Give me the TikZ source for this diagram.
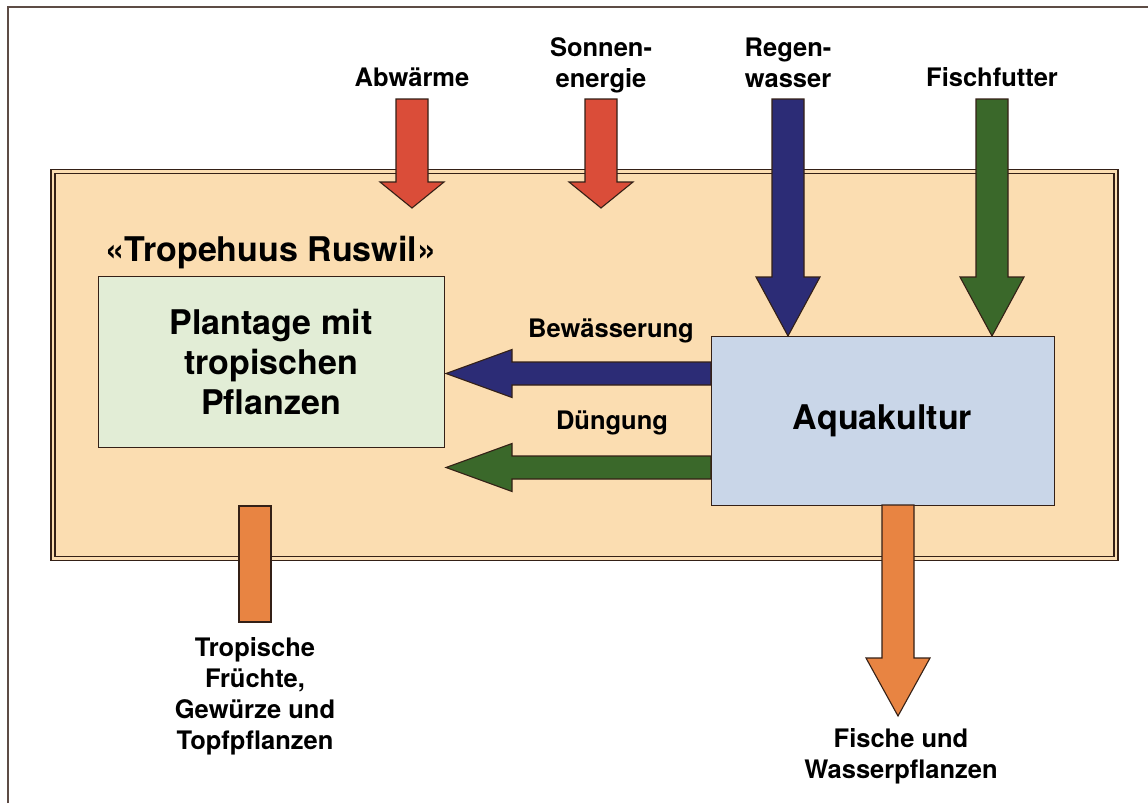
\documentclass[tikz,border=0pt]{standalone}
\usepackage{fontspec}
\setmainfont{TeX Gyre Heros}
\usepackage{xcolor}
\usetikzlibrary{positioning,calc}
\definecolor{linecolor}{RGB}{52,32,22}
\definecolor{housecolor}{RGB}{251,221,177}
\definecolor{plantcolor}{RGB}{226,237,214}
\definecolor{aquacolor}{RGB}{201,214,232}
\definecolor{heatcolor}{RGB}{218,77,57}
\definecolor{watercolor}{RGB}{44,44,118}
\definecolor{feedcolor}{RGB}{58,104,42}
\definecolor{yieldcolor}{RGB}{232,132,66}
\tikzset{
  house box/.style={
    rectangle,
    draw=linecolor,
    line width=1.3pt,
    double=housecolor,
    double distance=2.7pt,
    fill=housecolor,
    minimum width=1063pt,
    minimum height=387pt,
    inner sep=0pt
  },
  unit box/.style={
    rectangle,
    draw=linecolor,
    line width=0.9pt,
    inner sep=0pt,
    align=center,
    font=\fontsize{34}{40}\selectfont\bfseries
  },
  flow/.style={
    draw=linecolor,
    line width=1.1pt,
    line join=miter
  },
  flow label/.style={
    align=center,
    inner sep=0pt,
    font=\fontsize{25.5}{31}\selectfont\bfseries
  }
}
% down arrow: [head length]{colour}{start}{tip}, half widths 16/32
\newcommand{\flowdown}[4][58]{%
  \draw[flow, fill=#2] ([xshift=-16pt]#3) -- ([xshift=-16pt,yshift=#1pt]#4)
    -- ([xshift=-32pt,yshift=#1pt]#4) -- (#4) -- ([xshift=32pt,yshift=#1pt]#4)
    -- ([xshift=16pt,yshift=#1pt]#4) -- ([xshift=16pt]#3) -- cycle;}
% left arrow: {colour}{start}{tip}
\newcommand{\flowleft}[3]{%
  \draw[flow, fill=#1] ([yshift=11.5pt]#2) -- ([xshift=66pt,yshift=11.5pt]#3)
    -- ([xshift=66pt,yshift=24pt]#3) -- (#3) -- ([xshift=66pt,yshift=-24pt]#3)
    -- ([xshift=66pt,yshift=-11.5pt]#3) -- ([yshift=-11.5pt]#2) -- cycle;}

\begin{document}
\begin{tikzpicture}[x=1pt, y=-1pt]
  \useasboundingbox (0,0) rectangle (1148,803);
  \fill[white] (0,0) rectangle (1148,803);
  \draw[linecolor!80, line width=1.5pt] (8,803) -- (8,7) -- (1148,7);

  % Tropenhaus and its two units
  \node[house box] (house) at (584.5,365) {};
  \node[unit box, fill=plantcolor, minimum width=346pt, minimum height=171pt]
    (plant) at (271,361.5) {Plantage mit\\tropischen\\Pflanzen};
  \node[unit box, fill=aquacolor, minimum width=343pt, minimum height=169pt]
    (aqua) at (882.5,420.5) {Aquakultur};
  \node[font=\fontsize{34}{40}\selectfont\bfseries, inner sep=0pt]
    (title) at (271,253) {«Tropehuus Ruswil»};

  % inputs from outside
  \node[flow label, anchor=north] (abw) at (412,67.5) {Abwärme};
  \node[flow label, anchor=north] (son) at (601,37.5) {Sonnen-\\energie};
  \node[flow label, anchor=north] (reg) at (788,37.5) {Regen-\\wasser};
  \node[flow label, anchor=north] (ff) at (992,67.5) {Fischfutter};

  \coordinate (abw-top) at (412,99);
  \coordinate (abw-tip) at (412,208);
  \coordinate (son-top) at (601,99);
  \coordinate (son-tip) at (601,208);
  \coordinate (reg-top) at (788,99);
  \coordinate (reg-tip) at (788,336);
  \coordinate (ff-top) at (992,99);
  \coordinate (ff-tip) at (992,336);

  \flowdown[26]{heatcolor}{abw-top}{abw-tip}
  \flowdown[26]{heatcolor}{son-top}{son-tip}
  \flowdown[59]{watercolor}{reg-top}{reg-tip}
  \flowdown[59]{feedcolor}{ff-top}{ff-tip}

  % from Aquakultur to the plants
  \coordinate (bew-from) at (711,373.5);
  \coordinate (bew-tip) at (446,373.5);
  \coordinate (dung-from) at (711,467.5);
  \coordinate (dung-tip) at (446,467.5);
  \flowleft{watercolor}{bew-from}{bew-tip}
  \flowleft{feedcolor}{dung-from}{dung-tip}
  \node[flow label] (bew) at (611,331) {Bewässerung};
  \node[flow label] (dung) at (612,423) {Düngung};

  % outputs
  \coordinate (fruit-top) at (239,506);
  \coordinate (fruit-end) at (271,622);
  \draw[flow, fill=yieldcolor] (fruit-top) rectangle (fruit-end);
  \node[flow label, anchor=north] (fruit) at (255,637.5)
    {Tropische\\Früchte,\\Gewürze und\\Topfpflanzen};

  \coordinate (fish-top) at (898,505);
  \coordinate (fish-tip) at (898,716);
  \flowdown[58]{yieldcolor}{fish-top}{fish-tip}
  \node[flow label, anchor=north] (fish) at (901,728.5) {Fische und\\Wasserpflanzen};
\end{tikzpicture}
\end{document}
